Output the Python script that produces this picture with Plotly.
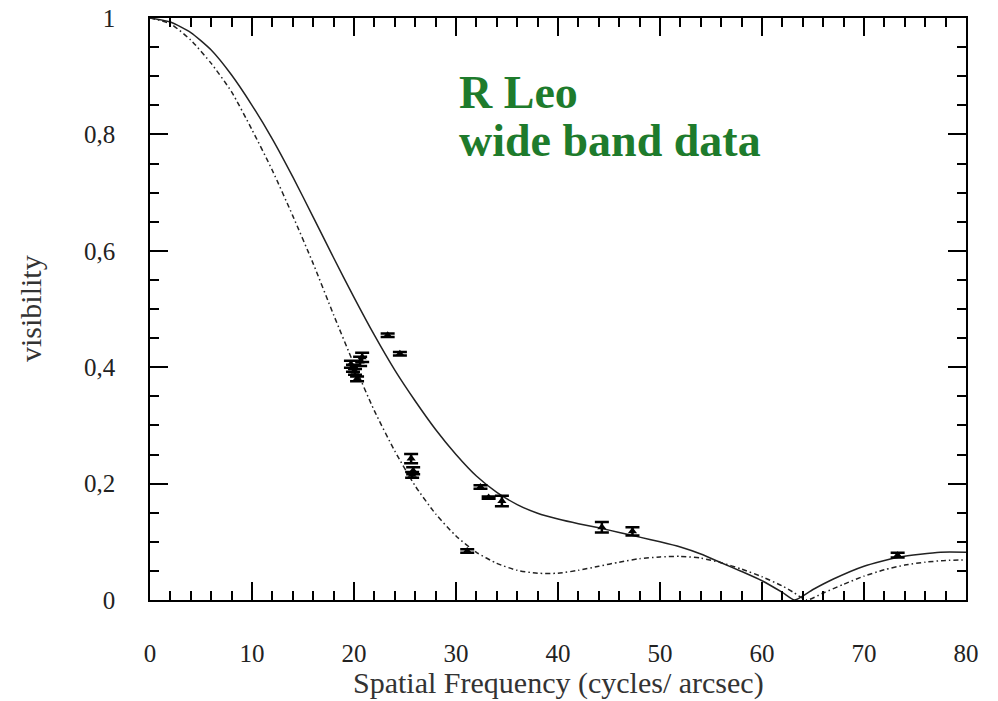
import plotly.graph_objects as go

# Model curves
solid_x = [0, 2, 4, 6, 8, 10, 12, 14, 16, 18, 20, 22, 24, 26, 28, 30, 32, 34, 36, 38, 40,
           42, 44, 46, 48, 50, 52, 54, 56, 58, 60, 62, 63.2, 65, 67, 70, 73.5, 77.5, 80]
solid_y = [1.0, 0.993, 0.975, 0.945, 0.902, 0.85, 0.792, 0.727, 0.658, 0.588, 0.52, 0.455,
           0.395, 0.342, 0.293, 0.25, 0.213, 0.185, 0.164, 0.149, 0.139, 0.131, 0.124, 0.116,
           0.108, 0.1, 0.091, 0.079, 0.064, 0.049, 0.033, 0.013, 0.0, 0.018, 0.036, 0.058,
           0.074, 0.082, 0.082]

dash_x = [0, 2, 4, 6, 8, 10, 12, 14, 16, 18, 20, 22, 24, 26, 28, 30, 32, 34, 36, 38, 40,
          42, 44, 46, 48, 50, 52, 54, 56, 58, 60, 62, 63, 64.4, 66, 68, 70, 72, 74, 76, 78, 80]
dash_y = [1.0, 0.99, 0.962, 0.922, 0.873, 0.808, 0.738, 0.66, 0.578, 0.49, 0.405, 0.325,
          0.256, 0.196, 0.148, 0.11, 0.082, 0.063, 0.051, 0.046, 0.046, 0.051, 0.058, 0.065,
          0.071, 0.074, 0.075, 0.072, 0.064, 0.053, 0.04, 0.024, 0.014, 0.0, 0.012, 0.027,
          0.041, 0.052, 0.06, 0.065, 0.068, 0.069]

# Measured visibilities
data_x = [23.3, 24.5, 19.7, 19.9, 20.1, 20.3, 20.6, 20.8, 25.6, 25.8, 25.7,
          32.4, 33.2, 34.5, 31.1, 44.3, 47.3, 73.3]
data_y = [0.455, 0.423, 0.405, 0.398, 0.392, 0.38, 0.41, 0.417, 0.243, 0.222, 0.215,
          0.194, 0.176, 0.170, 0.084, 0.125, 0.118, 0.077]
data_err = [0.003, 0.003, 0.006, 0.006, 0.005, 0.004, 0.008, 0.008, 0.008, 0.006, 0.005,
            0.003, 0.002, 0.009, 0.003, 0.009, 0.007, 0.004]

x_tickvals = [0, 10, 20, 30, 40, 50, 60, 70, 80]
x_ticktext = ["0", "10", "20", "30", "40", "50", "60", "70", "80"]
y_tickvals = [0, 0.2, 0.4, 0.6, 0.8, 1.0]
y_ticktext = ["0", "0,2", "0,4", "0,6", "0,8", "1"]

SERIF = "Liberation Serif, Times New Roman, serif"
GREEN = "#1e7b2c"

fig = go.Figure()
fig.add_trace(go.Scatter(x=solid_x, y=solid_y, mode="lines",
                         line=dict(color="#222", width=1.5, shape="spline", smoothing=0.6),
                         showlegend=False, hoverinfo="skip"))
fig.add_trace(go.Scatter(x=dash_x, y=dash_y, mode="lines",
                         line=dict(color="#222", width=1.5, dash="5px,3px,1.5px,3px", shape="spline", smoothing=0.6),
                         showlegend=False, hoverinfo="skip"))
fig.add_trace(go.Scatter(x=data_x, y=data_y, mode="markers",
                         marker=dict(symbol="triangle-up", size=8, color="black"),
                         error_y=dict(type="data", array=data_err, visible=True, color="black", thickness=2.5, width=7),
                         showlegend=False))
# invisible trace for mirrored top/right axes
fig.add_trace(go.Scatter(x=[0, 80], y=[0, 1], xaxis="x2", yaxis="y2", mode="markers",
                         marker=dict(opacity=0), showlegend=False, hoverinfo="skip"))

axis_common = dict(showgrid=False, zeroline=False, showline=True, linecolor="black", linewidth=1.5,
                   ticks="inside", tickcolor="black", tickwidth=1.5, ticklen=18, automargin=False)
minor_x = dict(dtick=2, ticks="inside", ticklen=9, tickcolor="black", tickwidth=1.5)
minor_y = dict(dtick=0.05, ticks="inside", ticklen=9, tickcolor="black", tickwidth=1.5)

PT, PH = 18, 582  # plot top and height in px


def ypos(py):
    return 1 - (py - PT) / PH


fig.update_layout(
    width=998, height=701,
    margin=dict(l=150, r=32, t=18, b=101),
    paper_bgcolor="white", plot_bgcolor="white",
    font=dict(family=SERIF, color="#222"),
    xaxis=dict(range=[0, 80], tickvals=x_tickvals, ticktext=x_ticktext,
               tickfont=dict(size=25, family=SERIF, color="#222"), ticklabelstandoff=30,
               minor=minor_x, **axis_common),
    yaxis=dict(range=[0, 1], tickvals=y_tickvals, ticktext=y_ticktext,
               tickfont=dict(size=25, family=SERIF, color="#222"), ticklabelstandoff=28,
               minor=minor_y, **axis_common),
    xaxis2=dict(range=[0, 80], overlaying="x", side="top", tickvals=x_tickvals, showticklabels=False,
                minor=minor_x, **axis_common),
    yaxis2=dict(range=[0, 1], overlaying="y", side="right", tickvals=y_tickvals, showticklabels=False,
                minor=minor_y, **axis_common),
    annotations=[
        dict(text="R Leo", xref="paper", yref="paper", x=(457 - 150) / 816, y=ypos(92),
             xanchor="left", yanchor="middle", showarrow=False,
             font=dict(size=46, family=SERIF, color=GREEN, weight="bold")),
        dict(text="wide band data", xref="paper", yref="paper", x=(457 - 150) / 816, y=ypos(140),
             xanchor="left", yanchor="middle", showarrow=False,
             font=dict(size=46, family=SERIF, color=GREEN, weight="bold")),
        dict(text="Spatial Frequency (cycles/ arcsec)", xref="paper", yref="paper", x=0.5, y=ypos(683),
             xanchor="center", yanchor="middle", showarrow=False, font=dict(size=30, family=SERIF, color="#333")),
        dict(text="visibility", xref="paper", yref="paper", x=-(150 - 30) / 816, y=0.5, textangle=-90,
             xanchor="center", yanchor="middle", showarrow=False, font=dict(size=30, family=SERIF, color="#333")),
    ],
)

fig.write_html("out.html", config={"displayModeBar": False},
               post_script="document.body.style.margin='0';")
